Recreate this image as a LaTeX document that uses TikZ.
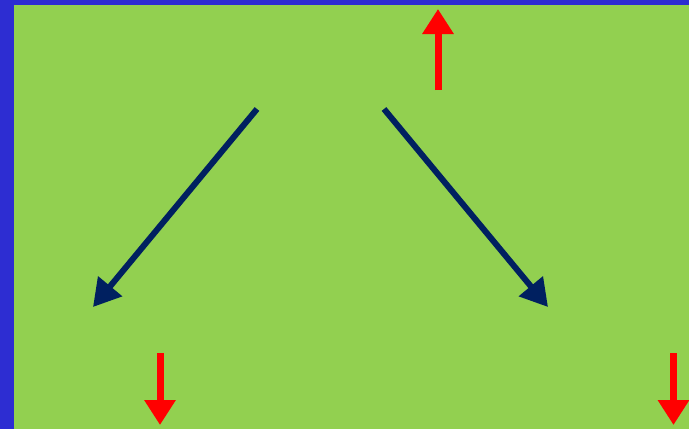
\documentclass[tikz,border=0pt]{standalone}
\usetikzlibrary{arrows.meta}
\definecolor{bgblue}{RGB}{45,45,210}
\definecolor{bggreen}{RGB}{146,208,80}
\definecolor{navy}{RGB}{0,32,96}
\definecolor{redarrow}{RGB}{255,0,0}
\tikzset{
  navyarrow/.style={draw=navy, line width=6pt, -{Triangle[length=27pt,width=30pt]}},
  redarr/.style={draw=redarrow, line width=7pt, -{Triangle[length=25pt,width=30pt]}}
}
\begin{document}
\begin{tikzpicture}[x=1pt,y=-1pt]
\useasboundingbox (0,0) rectangle (689,429);
\fill[bgblue] (0,0) rectangle (689,429);
\fill[bggreen] (14,5) rectangle (689,429);
\coordinate (a1s) at (257,109);
\coordinate (a1e) at (93,307);
\coordinate (a2s) at (384,109);
\coordinate (a2e) at (548,307);
\draw[navyarrow] (a1s) -- (a1e);
\draw[navyarrow] (a2s) -- (a2e);
\coordinate (r1s) at (438,90);
\coordinate (r1e) at (438,9);
\coordinate (r2s) at (160,353);
\coordinate (r2e) at (160,425);
\coordinate (r3s) at (673.5,353);
\coordinate (r3e) at (673.5,425);
\draw[redarr] (r1s) -- (r1e);
\draw[redarr] (r2s) -- (r2e);
\draw[redarr] (r3s) -- (r3e);
\end{tikzpicture}
\end{document}
